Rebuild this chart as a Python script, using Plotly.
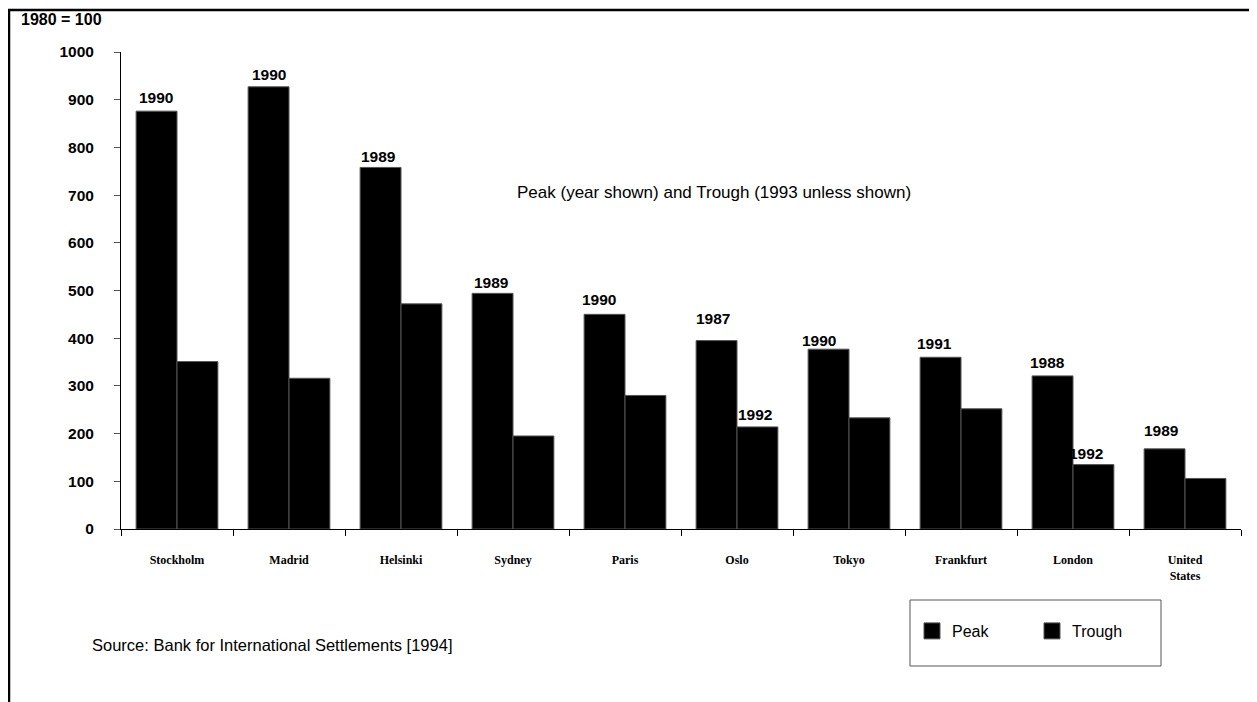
import plotly.graph_objects as go

# data (1980 = 100)
cities = ["Stockholm", "Madrid", "Helsinki", "Sydney", "Paris",
          "Oslo", "Tokyo", "Frankfurt", "London", "United<br>States"]
peak = [876, 927, 758, 494, 450, 395, 377, 360, 321, 168]
trough = [351, 316, 472, 195, 280, 214, 233, 252, 135, 106]
peak_year = ["1990", "1990", "1989", "1989", "1990",
             "1987", "1990", "1991", "1988", "1989"]
trough_year = ["", "", "", "", "", "1992", "", "", "1992", ""]

# label nudges in pixels (dx, height above bar top)
peak_dx = [-1, 0, -2, -1, -6, -4, -10, -6, -5, -3]
peak_dy = [14, 12, 11, 11, 15, 22, 9, 14, 13, 18]
trough_dx = [0, 0, 0, 0, 0, -2, 0, 0, -7, 0]
trough_dy = [0, 0, 0, 0, 0, 12, 0, 0, 11, 0]

W, H = 1257, 702
OFF = 8  # page body margin, screen px = figure px + 8
L, T = 113, 44
pw, ph = 1120, 477
R, B = W - L - pw, H - T - ph
bargap = 0.27
half = (1 - bargap) / 4

SANS = "Liberation Sans, Arial, sans-serif"
SERIF = "Liberation Serif, Times New Roman, serif"


def px_x(sx):
    return (sx - OFF - L) / pw


def px_y(sy):
    return (T + ph - (sy - OFF)) / ph


fig = go.Figure()
fig.add_trace(go.Bar(x=cities, y=peak, name="Peak", showlegend=False,
                     marker=dict(color="black", line=dict(color="#555", width=1))))
fig.add_trace(go.Bar(x=cities, y=trough, name="Trough", showlegend=False,
                     marker=dict(color="black", line=dict(color="#555", width=1))))
# legend entries with big square keys
for nm in ["Peak", "Trough"]:
    fig.add_trace(go.Scatter(x=[None], y=[None], mode="markers", name=nm,
                             marker=dict(symbol="square", size=16, color="black",
                                         line=dict(color="#555", width=1))))

annotations = []
for i in range(len(cities)):
    annotations.append(dict(x=i - half, y=peak[i], xref="x", yref="y",
                            text=peak_year[i], showarrow=False,
                            xshift=peak_dx[i], yshift=peak_dy[i], yanchor="middle",
                            font=dict(family=SANS, size=15.5, color="black", weight="bold")))
    if trough_year[i]:
        annotations.append(dict(x=i + half, y=trough[i], xref="x", yref="y",
                                text=trough_year[i], showarrow=False,
                                xshift=trough_dx[i], yshift=trough_dy[i], yanchor="middle",
                                font=dict(family=SANS, size=15.5, color="black", weight="bold")))

annotations += [
    dict(x=px_x(19), y=px_y(20), xref="paper", yref="paper", text="1980 = 100",
         showarrow=False, xanchor="left", yanchor="middle",
         font=dict(family=SANS, size=16, color="black", weight="bold")),
    dict(x=px_x(714), y=px_y(192), xref="paper", yref="paper",
         text="Peak (year shown) and Trough (1993 unless shown)",
         showarrow=False, xanchor="center", yanchor="middle",
         font=dict(family=SANS, size=17, color="black")),
    dict(x=px_x(90), y=px_y(645), xref="paper", yref="paper",
         text="Source: Bank for International Settlements [1994]",
         showarrow=False, xanchor="left", yanchor="middle",
         font=dict(family=SANS, size=16.5, color="black")),
]

shapes = [
    # outer frame (only left and top edges visible)
    dict(type="rect", xref="paper", yref="paper",
         x0=px_x(9), x1=px_x(W + 30), y0=px_y(H + 30), y1=px_y(10),
         line=dict(color="black", width=2.5)),
    # legend box
    dict(type="rect", xref="paper", yref="paper",
         x0=px_x(910), x1=px_x(1161), y0=px_y(666), y1=px_y(600),
         line=dict(color="#555", width=1)),
]

fig.update_layout(
    width=W, height=H,
    margin=dict(l=L, r=R, t=T, b=B),
    paper_bgcolor="white", plot_bgcolor="white",
    barmode="group", bargap=bargap, bargroupgap=0,
    showlegend=True,
    legend=dict(orientation="h", x=px_x(912), y=px_y(631), xanchor="left",
                yanchor="middle", entrywidth=75, entrywidthmode="pixels",
                font=dict(family=SANS, size=16, color="black"),
                bgcolor="rgba(0,0,0,0)"),
    xaxis=dict(type="category", range=[-0.5, len(cities) - 0.5],
               showline=True, linecolor="black", linewidth=1,
               ticks="outside", tickson="boundaries", ticklen=6, tickcolor="black",
               showgrid=False, ticklabelstandoff=20,
               tickfont=dict(family=SERIF, size=12, color="black", weight="bold")),
    yaxis=dict(range=[0, 1000], dtick=100, showline=True, linecolor="black",
               linewidth=1, ticks="outside", ticklen=6, tickcolor="#555",
               showgrid=False, zeroline=False, ticklabelstandoff=17,
               tickfont=dict(family=SANS, size=15.5, color="black", weight="bold")),
    # second set of axes just to draw the inner half of the crossing ticks
    xaxis2=dict(overlaying="x", anchor="y", range=[-0.5, len(cities) - 0.5],
                tick0=-0.5, dtick=1, ticks="inside", ticklen=6, tickcolor="black",
                showticklabels=False, showgrid=False, zeroline=False, showline=False),
    yaxis2=dict(overlaying="y", anchor="x", range=[0, 1000], dtick=100,
                ticks="inside", ticklen=6, tickcolor="#555",
                showticklabels=False, showgrid=False, zeroline=False, showline=False),
    annotations=annotations,
    shapes=shapes,
)

fig.write_html("out.html")
